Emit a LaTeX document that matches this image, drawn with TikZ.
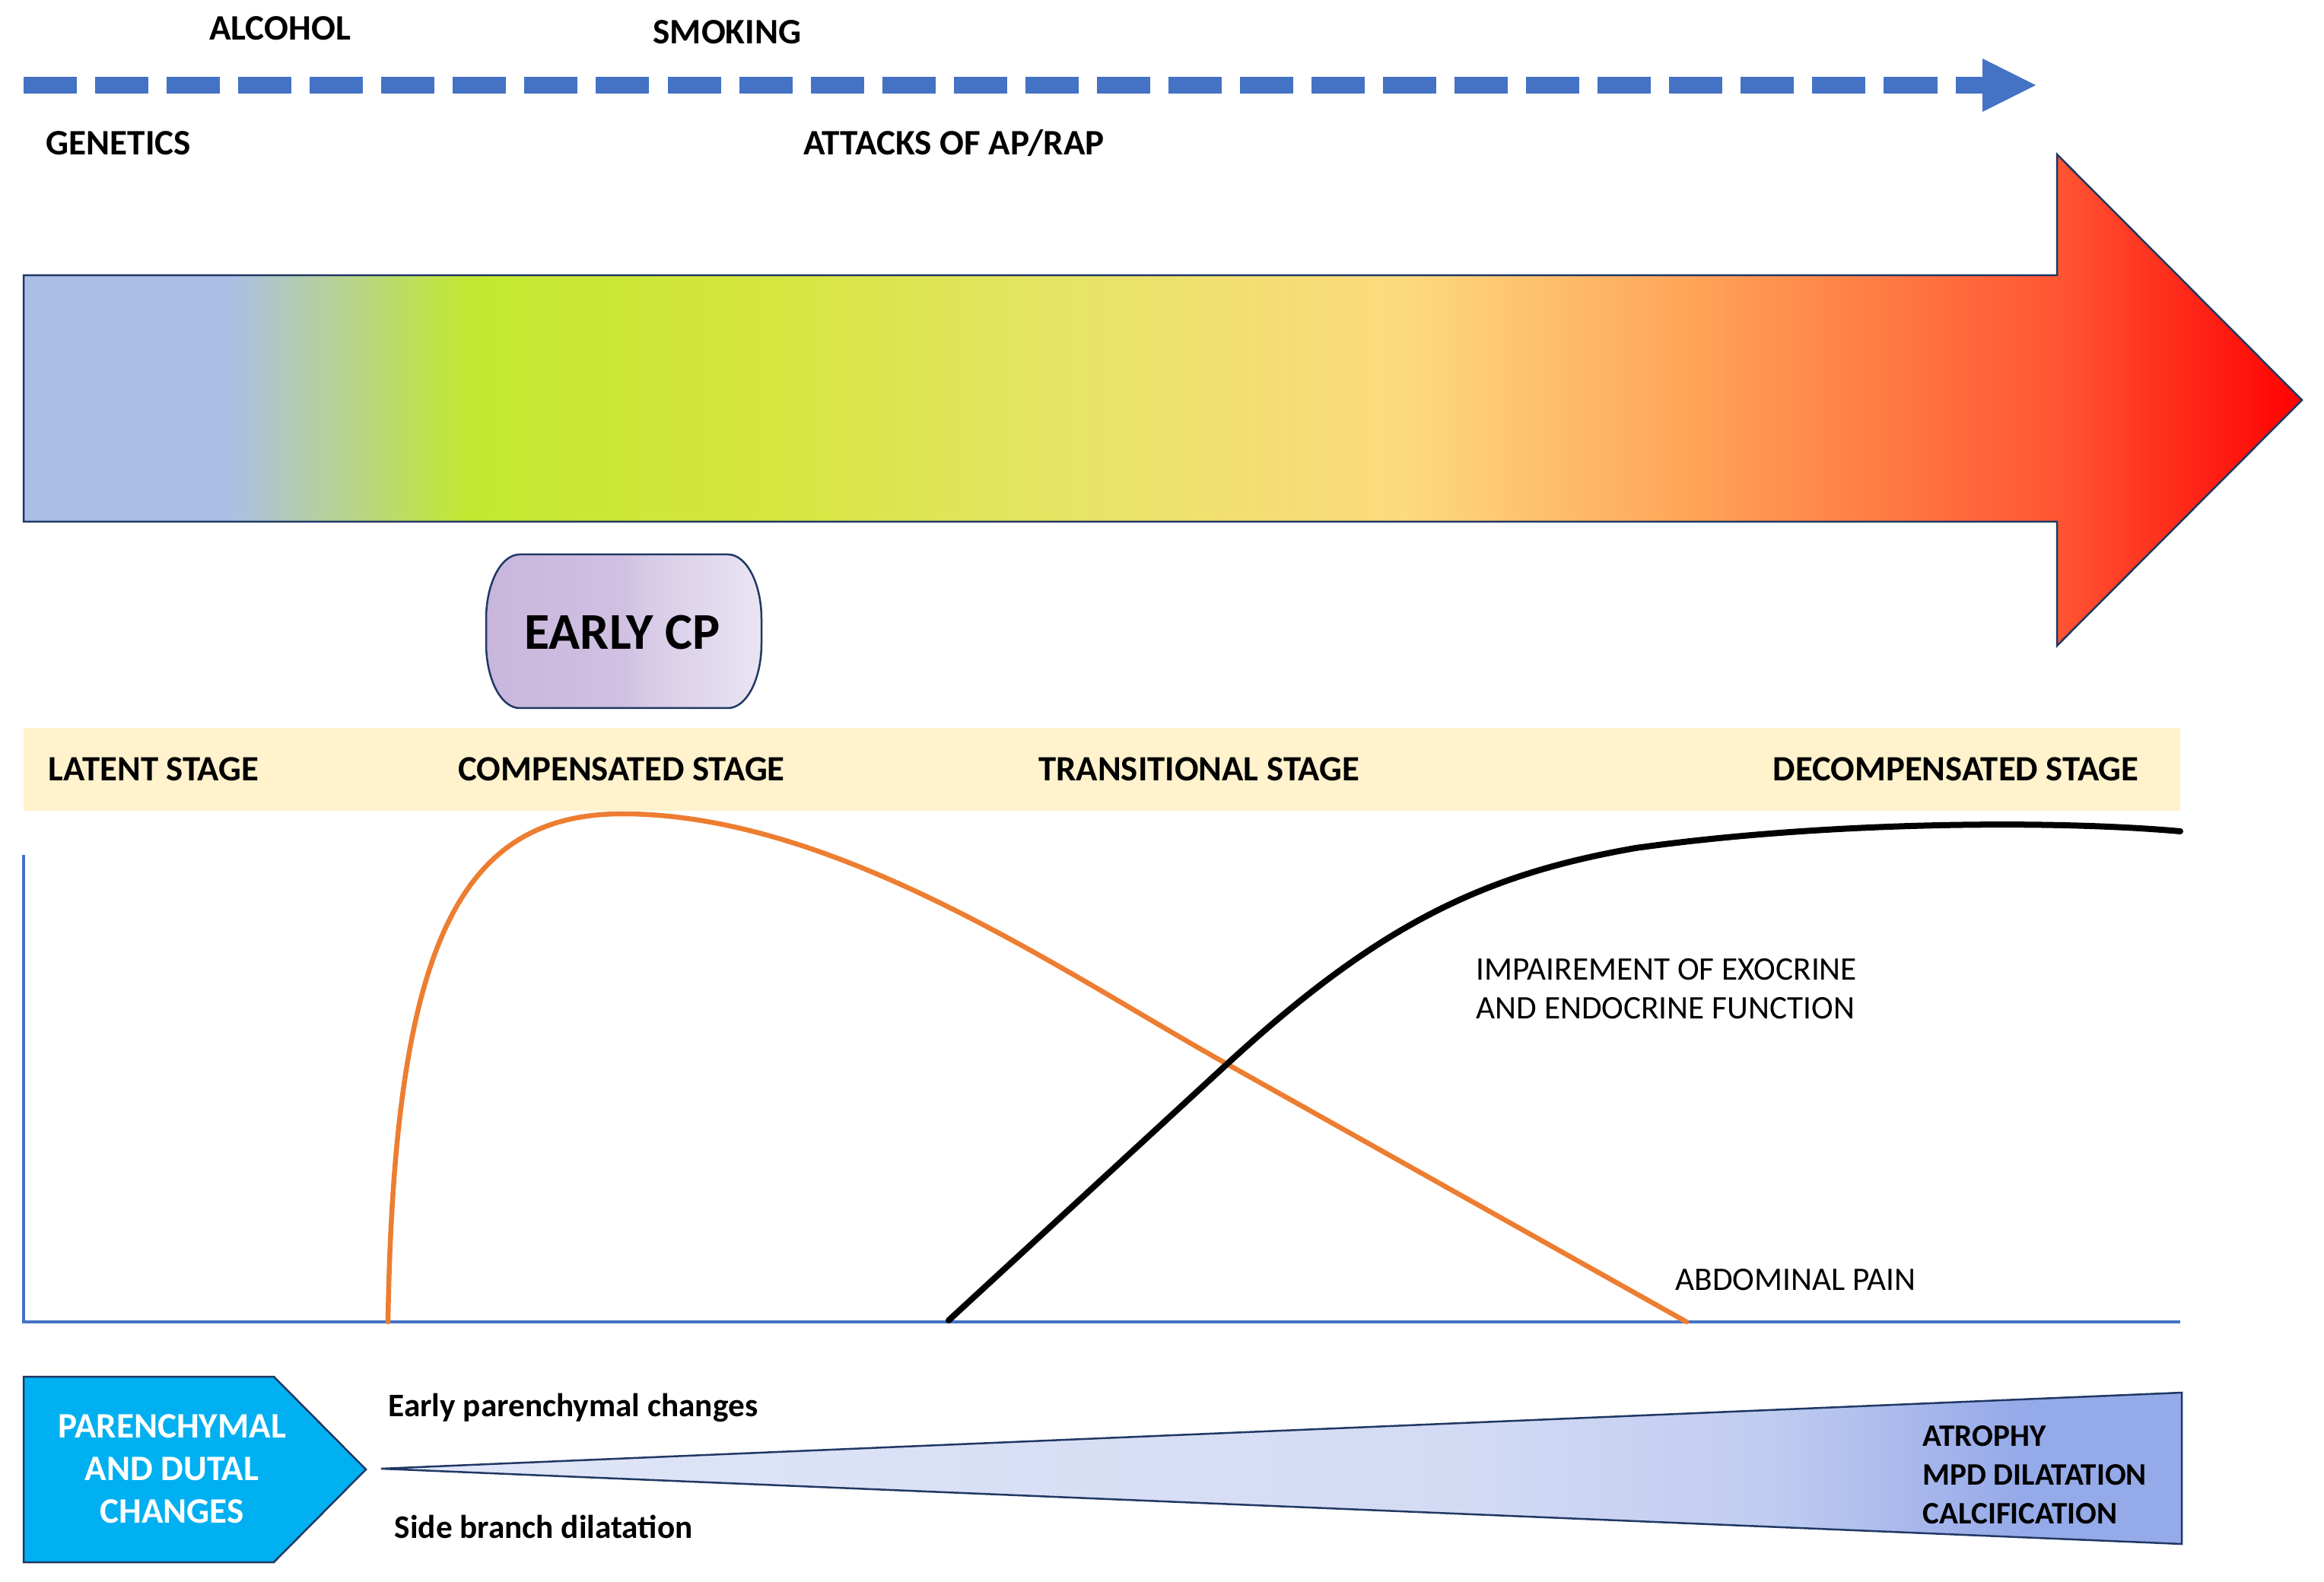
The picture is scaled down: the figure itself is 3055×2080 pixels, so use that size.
\documentclass[tikz,border=0pt]{standalone}
\usepackage{fontspec}
\setmainfont{Carlito}
\definecolor{navyc}{HTML}{203864}
\definecolor{dashblue}{HTML}{4472C4}
\definecolor{bandc}{HTML}{FFF2CC}
\definecolor{orangec}{HTML}{ED7D31}
\definecolor{cyanc}{HTML}{00B0F0}
\definecolor{ga}{HTML}{ABBFE6}
\definecolor{gb}{HTML}{C3E82F}
\definecolor{gc}{HTML}{D5E63E}
\definecolor{gd}{HTML}{E6E466}
\definecolor{ge}{HTML}{FDDA7D}
\definecolor{gf}{HTML}{FFA055}
\definecolor{gg}{HTML}{FF5533}
\definecolor{gh}{HTML}{FF0000}
\definecolor{pa}{HTML}{C8B6DC}
\definecolor{pb}{HTML}{D0C0E2}
\definecolor{pc}{HTML}{D8CCE7}
\definecolor{pd}{HTML}{E9E4F2}
\definecolor{wa}{HTML}{E1E6F8}
\definecolor{wb}{HTML}{D3DBF4}
\definecolor{wc}{HTML}{C0CCF0}
\definecolor{wd}{HTML}{A8B8EC}
\definecolor{we}{HTML}{95AAE8}
\pgfdeclarehorizontalshading{bigarrowsh}{100bp}{color(0bp)=(ga); color(25bp)=(ga); color(29.5bp)=(ga); color(34.8bp)=(gb); color(41.2bp)=(gc); color(47.9bp)=(gd); color(55.3bp)=(ge); color(62bp)=(gf); color(69.6bp)=(gg); color(75bp)=(gh); color(100bp)=(gh)}
\pgfdeclarehorizontalshading{earlysh}{100bp}{color(0bp)=(pa); color(25bp)=(pa); color(50bp)=(pb); color(55bp)=(pc); color(75bp)=(pd); color(100bp)=(pd)}
\pgfdeclarehorizontalshading{wedgesh}{100bp}{color(0bp)=(wa); color(25bp)=(wa); color(55bp)=(wb); color(63.5bp)=(wc); color(67.5bp)=(wd); color(70.5bp)=(we); color(75bp)=(we); color(100bp)=(we)}
\begin{document}
\begin{tikzpicture}[x=0.01cm,y=-0.01cm,
  outl/.style={draw=navyc, line width=0.025cm},
  toplab/.style={font=\fontsize{13.4}{16}\selectfont\bfseries, inner sep=0pt},
  stagelab/.style={font=\fontsize{13.3}{16}\selectfont\bfseries, inner sep=0pt},
  curvelab/.style={font=\fontsize{12.3}{14.5}\selectfont, inner sep=0pt, align=left},
  botlab/.style={font=\fontsize{12.3}{14.5}\selectfont\bfseries, inner sep=0pt},
  dashline/.style={draw=dashblue, line width=0.22cm, dash pattern=on 0.70cm off 0.24cm},
  axisline/.style={draw=dashblue, line width=0.035cm},
  curveline/.style={line width=0.065cm, line cap=round},
  ]
\useasboundingbox (0,0) rectangle (3055,2080);
% dashed arrow
\coordinate (dstart) at (31,112);
\coordinate (dend) at (2606,112);
\draw[dashline] (dstart) -- (dend);
\fill[dashblue] (2606,77) -- (2676,112) -- (2606,147) -- cycle;
\node[toplab] (alc) at (368,37) {ALCOHOL};
\node[toplab] (smk) at (956,42) {SMOKING};
\node[toplab] (gen) at (156,188) {GENETICS};
\node[toplab] (att) at (1254,188) {ATTACKS OF AP/RAP};
% big arrow
\path[outl, shading=bigarrowsh] (31,362) -- (2704,362) -- (2704,203) -- (3026,526) -- (2704,849) -- (2704,686) -- (31,686) -- cycle;
% early CP
\path[outl, shading=earlysh] (683,729) -- (957,729) arc[start angle=-90, end angle=0, x radius=44, y radius=85] -- (1001,846) arc[start angle=0, end angle=90, x radius=44, y radius=85] -- (683,931) arc[start angle=90, end angle=180, x radius=44, y radius=85] -- (639,814) arc[start angle=180, end angle=270, x radius=44, y radius=85] -- cycle;
\node[font=\fontsize{19.3}{22}\selectfont\bfseries, inner sep=0pt] (early) at (818,831) {EARLY CP};
% stage band
\fill[bandc] (31,957) rectangle (2866,1066);
\node[stagelab] (lat) at (202,1011) {LATENT STAGE};
\node[stagelab] (comp) at (817,1011) {COMPENSATED STAGE};
\node[stagelab] (trans) at (1576,1011) {TRANSITIONAL STAGE};
\node[stagelab] (decomp) at (2571,1011) {DECOMPENSATED STAGE};
% axes
\coordinate (ytop) at (31,1124);
\coordinate (orig) at (31,1738);
\coordinate (xend) at (2866,1738);
\draw[axisline] (ytop) -- (orig) -- (xend);
% curves
\draw[curveline, draw=orangec] (510,1738) .. controls (518,1250) and (600,1070) .. (818,1070) .. controls (1100,1070) and (1400,1280) .. (1613,1399) -- (2217,1738);
\draw[curveline, draw=black, line width=0.08cm] (1247,1736) -- (1613,1399) .. controls (1813,1215) and (1950,1150) .. (2150,1115) .. controls (2400,1080) and (2700,1078) .. (2866,1093);
\node[curvelab, anchor=west] (imp) at (1940,1300) {IMPAIREMENT OF EXOCRINE\\AND ENDOCRINE FUNCTION};
\node[curvelab, anchor=west] (abd) at (2202,1683) {ABDOMINAL PAIN};
% bottom
\path[outl, fill=cyanc] (31,1810) -- (360,1810) -- (481,1932) -- (360,2054) -- (31,2054) -- cycle;
\node[font=\fontsize{13.4}{15.9}\selectfont\bfseries, text=white, align=center, inner sep=0pt] (par) at (226,1931) {PARENCHYMAL\\AND DUTAL\\CHANGES};
\path[outl, shading=wedgesh] (501,1931) -- (2868,1831) -- (2868,2030) -- cycle;
\node[botlab, anchor=west] (epc) at (510,1851) {Early parenchymal changes};
\node[botlab, anchor=west] (sbd) at (518,2007) {Side branch dilatation};
\node[font=\fontsize{11.7}{14.4}\selectfont\bfseries, inner sep=0pt, align=left, anchor=west] (atr) at (2527,1939) {ATROPHY\\MPD DILATATION\\CALCIFICATION};
\end{tikzpicture}
\end{document}
